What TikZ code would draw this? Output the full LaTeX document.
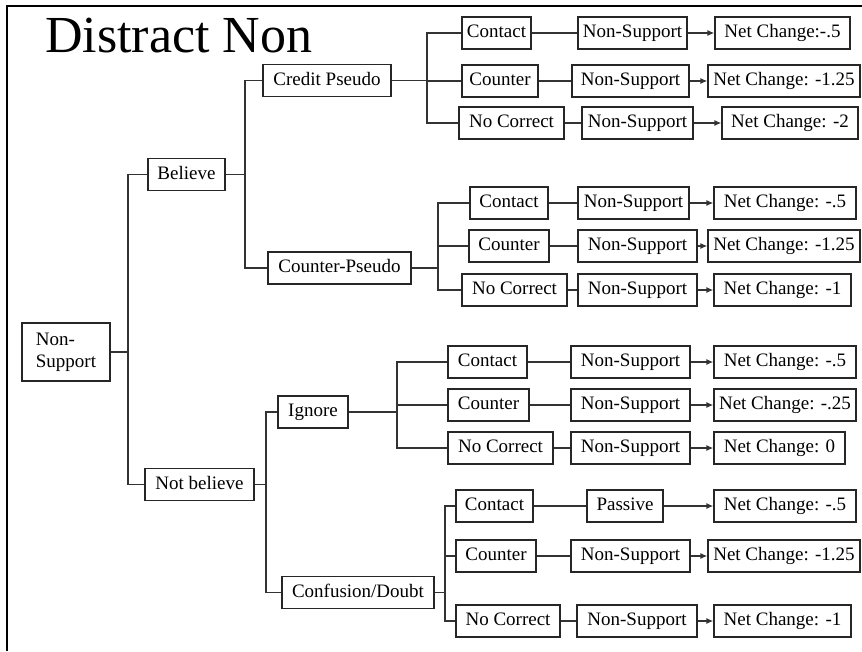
\documentclass[tikz,border=0pt]{standalone}
\usepackage{fontspec}
\setmainfont{Liberation Serif}
\usetikzlibrary{arrows.meta}
\begin{document}
\begin{tikzpicture}[x=1pt,y=-1pt,
  every node/.style={font=\fontsize{19}{22}\selectfont},
  framed/.style={draw=black!85,line width=1.3pt,inner sep=0pt,minimum height=32pt},
  box/.style={framed,text height=13pt,text depth=4pt},
  link/.style={draw=black!80,line width=1.3pt},
  arr/.style={link,-{Latex[length=7pt,width=6pt]}}]
\useasboundingbox (0,0) rectangle (862,651);
% frame
\draw[line width=2.5pt] (7,651) -- (7,6) -- (862,6);
% title
\node[anchor=base west,inner sep=0pt,font=\fontsize{52}{56}\selectfont] (title) at (45,52) {Distract Non};

% first levels
\node[framed,minimum width=88pt,minimum height=58pt,align=left] (ns) at (66,352) {Non-\\Support};
\node[box,minimum width=77pt] (bel) at (186.5,174.5) {Believe};
\node[box,minimum width=109pt] (nbel) at (199.5,484.5) {Not believe};
\node[box,minimum width=128pt] (cp) at (327,80.5) {Credit Pseudo};
\node[box,minimum width=143pt] (ctp) at (339.5,268) {Counter-Pseudo};
\node[box,minimum width=70pt] (ign) at (313,412) {Ignore};
\node[box,minimum width=152pt] (cd) at (358,592.5) {Confusion/Doubt};

% group under Credit Pseudo
\node[box,minimum width=69pt] (c1a) at (496.5,33) {Contact};
\node[box,minimum width=109pt] (n1a) at (632.5,33) {Non-Support};
\node[box,minimum width=135pt] (r1a) at (782.5,33) {Net Change:-.5};
\node[box,minimum width=76pt] (c1b) at (500,81) {Counter};
\node[box,minimum width=117pt] (n1b) at (630.5,81) {Non-Support};
\node[box,minimum width=152pt] (r1b) at (784,81) {Net Change: -1.25};
\node[box,minimum width=105pt] (c1c) at (511.5,123) {No Correct};
\node[box,minimum width=111pt] (n1c) at (637.5,123) {Non-Support};
\node[box,minimum width=136pt] (r1c) at (790,123) {Net Change: -2};

% group under Counter-Pseudo
\node[box,minimum width=78pt] (c2a) at (509,203) {Contact};
\node[box,minimum width=111pt] (n2a) at (633.5,203) {Non-Support};
\node[box,minimum width=142pt] (r2a) at (785,203) {Net Change: -.5};
\node[box,minimum width=80pt] (c2b) at (509,246) {Counter};
\node[box,minimum width=119pt] (n2b) at (637.5,246) {Non-Support};
\node[box,minimum width=152pt] (r2b) at (784,246) {Net Change: -1.25};
\node[box,minimum width=105pt] (c2c) at (514.5,290) {No Correct};
\node[box,minimum width=119pt] (n2c) at (637.5,290) {Non-Support};
\node[box,minimum width=137pt] (r2c) at (782.5,290) {Net Change: -1};

% group under Ignore
\node[box,minimum width=79pt] (c3a) at (487.5,362) {Contact};
\node[box,minimum width=119pt] (n3a) at (630.5,362) {Non-Support};
\node[box,minimum width=142pt] (r3a) at (785,362) {Net Change: -.5};
\node[box,minimum width=81pt] (c3b) at (488.5,405) {Counter};
\node[box,minimum width=119pt] (n3b) at (630.5,405) {Non-Support};
\node[box,minimum width=142pt] (r3b) at (785,405) {Net Change: -.25};
\node[box,minimum width=105pt] (c3c) at (500.5,448) {No Correct};
\node[box,minimum width=119pt] (n3c) at (630.5,448) {Non-Support};
\node[box,minimum width=131pt] (r3c) at (779.5,448) {Net Change: 0};

% group under Confusion/Doubt
\node[box,minimum width=77pt] (c4a) at (494.5,506) {Contact};
\node[box,minimum width=76pt] (n4a) at (625,506) {Passive};
\node[box,minimum width=142pt] (r4a) at (785,506) {Net Change: -.5};
\node[box,minimum width=80pt] (c4b) at (496,556) {Counter};
\node[box,minimum width=119pt] (n4b) at (630.5,556) {Non-Support};
\node[box,minimum width=152pt] (r4b) at (784,556) {Net Change: -1.25};
\node[box,minimum width=104pt] (c4c) at (508,621) {No Correct};
\node[box,minimum width=120pt] (n4c) at (637,621) {Non-Support};
\node[box,minimum width=137pt] (r4c) at (782.5,621) {Net Change: -1};

% branch points
\coordinate (j0) at (128,352);
\coordinate (j1) at (245,174.5);
\coordinate (j2) at (266,484.5);
\coordinate (j11) at (427,80.5);
\coordinate (j12) at (438,268);
\coordinate (j21) at (397,412);
\coordinate (j22) at (445,592.5);

% tree connectors
\draw[link] (ns.east) -- (j0);
\draw[link] (bel.west) -| (j0) |- (nbel.west);
\draw[link] (bel.east) -- (j1);
\draw[link] (cp.west) -| (j1) |- (ctp.west);
\draw[link] (nbel.east) -- (j2);
\draw[link] (ign.west) -| (j2) |- (cd.west);

\draw[link] (cp.east) -- (j11);
\draw[link] (c1a.west) -| (j11) |- (c1c.west);
\draw[link] (j11) |- (c1b.west);
\draw[link] (ctp.east) -- (j12);
\draw[link] (c2a.west) -| (j12) |- (c2c.west);
\draw[link] (j12) |- (c2b.west);
\draw[link] (ign.east) -- (j21);
\draw[link] (c3a.west) -| (j21) |- (c3c.west);
\draw[link] (j21) |- (c3b.west);
\draw[link] (cd.east) -- (j22);
\draw[link] (c4a.west) -| (j22) |- (c4c.west);
\draw[link] (j22) |- (c4b.west);

% row connectors
\foreach \g in {1,2,3,4}{
  \foreach \r in {a,b,c}{
    \draw[link] (c\g\r.east) -- (n\g\r.west);
    \draw[arr] (n\g\r.east) -- (r\g\r.west);
  }
}
\end{tikzpicture}
\end{document}
